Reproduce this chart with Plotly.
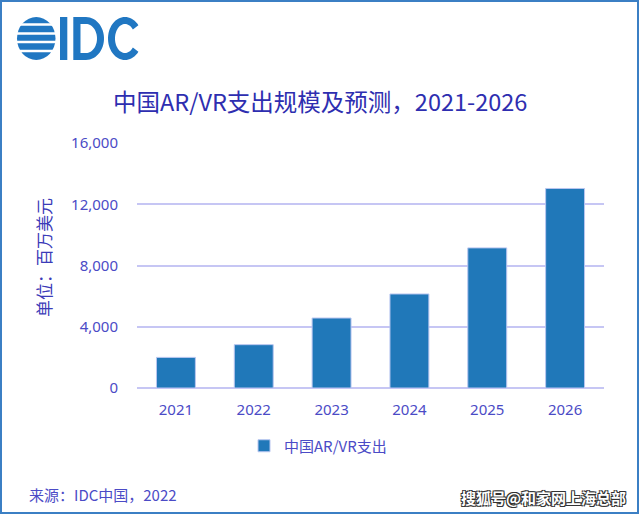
import numpy as np
import plotly.graph_objects as go

years = ["2021", "2022", "2023", "2024", "2025", "2026"]
spending = [2000, 2830, 4570, 6140, 9150, 13030]
y_ticks = [0, 4000, 8000, 12000, 16000]
y_tick_labels = ["0", "4,000", "8,000", "12,000", "16,000"]

W, H = 640, 515
L, R, T, B = 137, 36, 143, 127
PW, PH = W - L - R, H - T - B


def px(x):
    return (x - L) / PW


def py(y):
    return (H - B - y) / PH


def path_from(pts_list):
    segs = []
    for pts in pts_list:
        s = "M " + " L ".join(f"{px(x):.5f},{py(y):.5f}" for x, y in pts) + " Z"
        segs.append(s)
    return " ".join(segs)


TXT = "#4b4bc6"
BAR = "#2078b9"
LOGO = "#2077c2"
CJK = "Noto Sans CJK SC, Noto Sans, sans-serif"

fig = go.Figure()
fig.add_trace(go.Bar(
    x=years, y=spending, name="中国AR/VR支出",
    marker=dict(color=BAR, line=dict(color="#b9c6f0", width=1)),
    hoverinfo="x+y",
))

shapes = []
# outer border
shapes.append(dict(type="rect", xref="paper", yref="paper",
                   x0=px(1), x1=px(638), y0=py(1), y1=py(513),
                   line=dict(color="#3b7fc4", width=2), fillcolor="rgba(0,0,0,0)", layer="above"))
# IDC logo globe
shapes.append(dict(type="circle", xref="paper", yref="paper",
                   x0=px(17), x1=px(55.5), y0=py(17), y1=py(60),
                   line=dict(width=0), fillcolor=LOGO, layer="above"))
for gy in [24.5, 33.5, 42, 51]:
    shapes.append(dict(type="rect", xref="paper", yref="paper",
                       x0=px(15), x1=px(58), y0=py(gy - 1.3), y1=py(gy + 1.3),
                       line=dict(width=0), fillcolor="white", layer="above"))
# letter I
shapes.append(dict(type="rect", xref="paper", yref="paper",
                   x0=px(60), x1=px(67.3), y0=py(17), y1=py(60),
                   line=dict(width=0), fillcolor=LOGO, layer="above"))
# letter D
arc = np.linspace(-np.pi / 2, np.pi / 2, 30)
d_outer = [(73.3, 17)] + [(86 + 18 * np.cos(t), 38.5 + 21.5 * np.sin(t)) for t in arc] + [(73.3, 60)]
d_inner = [(80.5, 24)] + [(86 + 11 * np.cos(t), 38.5 + 14.5 * np.sin(t)) for t in arc] + [(80.5, 53)]
shapes.append(dict(type="path", xref="paper", yref="paper", path=path_from([d_outer, d_inner]),
                   fillrule="evenodd", line=dict(width=0), fillcolor=LOGO, layer="above"))
# letter C
ang = np.linspace(np.radians(38), np.radians(322), 50)
cx, cy = 125, 38.5
c_outer = [(cx + 17 * np.cos(t), cy - 21.5 * np.sin(t)) for t in ang]
c_inner = [(cx + 10 * np.cos(t), cy - 14.5 * np.sin(t)) for t in ang[::-1]]
shapes.append(dict(type="path", xref="paper", yref="paper", path=path_from([c_outer + c_inner]),
                   line=dict(width=0), fillcolor=LOGO, layer="above"))

annotations = [
    dict(text="中国AR/VR支出规模及预测，2021-2026", x=px(320), y=py(101),
         xref="paper", yref="paper", xanchor="center", yanchor="middle", showarrow=False,
         font=dict(family=CJK, size=23.5, color="#2e2eb0")),
    dict(text="单位：百万美元", x=px(43), y=py(258), xref="paper", yref="paper",
         xanchor="center", yanchor="middle", showarrow=False, textangle=-90,
         font=dict(family=CJK, size=17, color="#3b3bb8")),
    dict(text="来源：IDC中国，2022", x=px(27), y=py(494), xref="paper", yref="paper",
         xanchor="left", yanchor="middle", showarrow=False,
         font=dict(family=CJK, size=15, color="#4b4bc6")),
    dict(text="<b>搜狐号@和家网上海总部</b>", x=px(628), y=py(497), xref="paper", yref="paper",
         xanchor="right", yanchor="middle", showarrow=False,
         font=dict(family=CJK, size=15, color="white",
                   shadow="1px 1px 0 #333, -1px -1px 0 #333, 1px -1px 0 #333, -1px 1px 0 #333")),
]

fig.update_layout(
    width=W, height=H,
    margin=dict(l=L, r=R, t=T, b=B, pad=0),
    paper_bgcolor="white", plot_bgcolor="white",
    bargap=0.5,
    showlegend=True,
    legend=dict(orientation="h", x=px(318), y=py(446), xanchor="center", yanchor="middle",
                font=dict(family=CJK, size=15, color=TXT), itemwidth=30),
    xaxis=dict(showgrid=False, showline=False, ticks="", ticklabelstandoff=11,
               tickfont=dict(family="Noto Sans, sans-serif", size=15, color=TXT)),
    yaxis=dict(range=[0, 16000], tickvals=y_ticks, ticktext=y_tick_labels,
               showgrid=True, gridcolor="#c6c6f4", gridwidth=1.5, zeroline=True,
               zerolinecolor="#c6c6f4", zerolinewidth=1.5, showline=False, ticks="",
               ticklabelstandoff=18,
               tickfont=dict(family="Noto Sans, sans-serif", size=15, color=TXT)),
    shapes=shapes, annotations=annotations,
)

fig.write_html("out.html", config={"displayModeBar": False},
               post_script="document.body.style.margin='0';document.body.style.overflow='hidden';")
